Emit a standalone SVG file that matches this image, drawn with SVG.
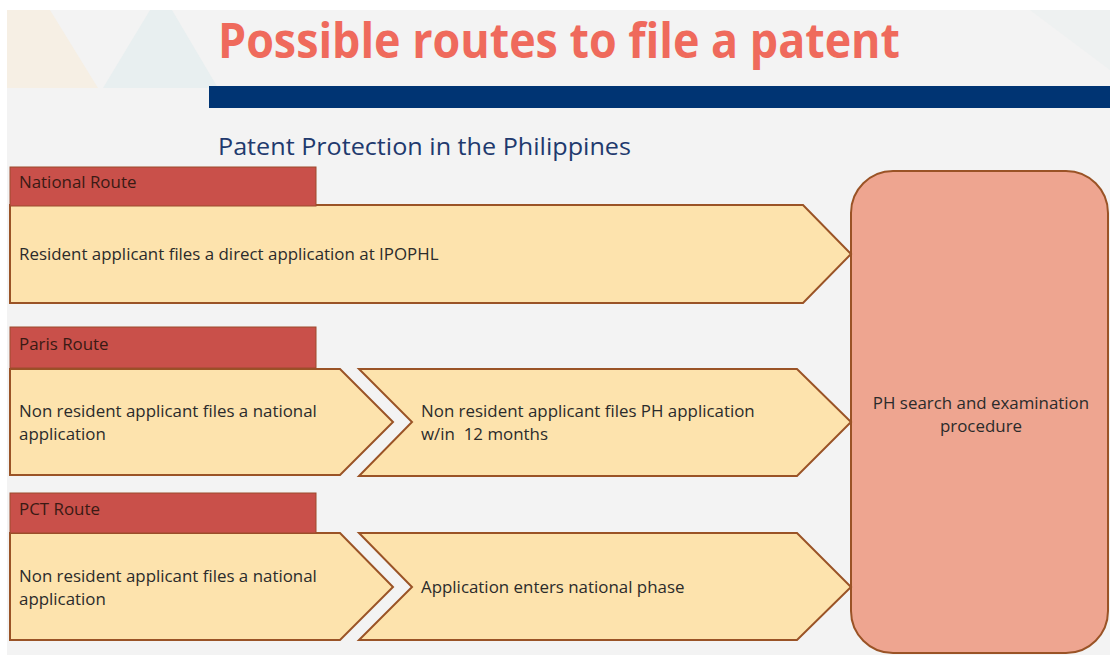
<svg xmlns="http://www.w3.org/2000/svg" width="1110" height="655" viewBox="0 0 1110 655">
<style>
.hdr{fill:#c9504a;stroke:#9c4a2c;stroke-width:1}
.arr{fill:#fde3ad;stroke:#9a5326;stroke-width:2;stroke-linejoin:miter}
.big{fill:#eea590;stroke:#9a5326;stroke-width:2}
.t{font-family:"Open Sans",Lato,sans-serif;font-size:16.9px;fill:#2b2b2b}
.h{font-family:"Open Sans",Lato,sans-serif;font-size:16.9px;fill:#3a1a14}
</style>
<rect x="0" y="0" width="1110" height="655" fill="#ffffff"/>
<rect x="7" y="10" width="1103" height="645" fill="#f3f3f3"/>
<g id="background">
<polygon points="7,10 50,10 98,88 7,88" fill="#f6efe4"/>
<polygon points="103,88 150,10 172,10 218,88" fill="#e8eff0"/>
<polygon points="1030,10 1110,10 1110,70" fill="#eef1f1"/>
</g>
<g id="title">
<text x="218" y="58" font-family="'Open Sans',Lato,sans-serif" font-weight="bold" font-size="48" fill="#ef6a5c" textLength="682" lengthAdjust="spacingAndGlyphs">Possible routes to file a patent</text>
<rect x="209" y="86" width="901" height="22" fill="#003473"/>
<text x="218" y="155" font-family="'Open Sans',Lato,sans-serif" font-size="23" fill="#1f3a6e" textLength="413" lengthAdjust="spacingAndGlyphs">Patent Protection in the Philippines</text>
</g>
<g id="ph-search">
<rect class="big" x="851" y="171" width="257" height="482" rx="42" ry="42"/>
<text class="t" x="981" y="409" text-anchor="middle">PH search and examination</text>
<text class="t" x="981" y="432" text-anchor="middle">procedure</text>
</g>
<g id="national-route">
<polygon class="arr" points="10,205 803,205 851,254 803,303 10,303"/>
<rect class="hdr" x="10" y="167" width="306" height="39"/>
<text class="h" x="19" y="188">National Route</text>
<text class="t" x="19" y="260">Resident applicant files a direct application at IPOPHL</text>
</g>
<g id="paris-route">
<polygon class="arr" points="10,369 340,369 393,422 340,475 10,475"/>
<rect class="hdr" x="10" y="327" width="306" height="41"/>
<text class="h" x="19" y="350">Paris Route</text>
<text class="t" x="19" y="417">Non resident applicant files a national</text>
<text class="t" x="19" y="440">application</text>
</g>
<g id="paris-step2">
<polygon class="arr" points="359,369 797,369 851,422 797,476 359,476 412,422"/>
<text class="t" x="421" y="417">Non resident applicant files PH application</text>
<text class="t" x="421" y="440" xml:space="preserve">w/in  12 months</text>
</g>
<g id="pct-route">
<polygon class="arr" points="10,533 340,533 393,587 340,640 10,640"/>
<rect class="hdr" x="10" y="493" width="306" height="40"/>
<text class="h" x="19" y="515">PCT Route</text>
<text class="t" x="19" y="582">Non resident applicant files a national</text>
<text class="t" x="19" y="605">application</text>
</g>
<g id="pct-step2">
<polygon class="arr" points="359,533 797,533 851,587 797,640 359,640 412,587"/>
<text class="t" x="421" y="593">Application enters national phase</text>
</g>
<g id="connectors"></g>
</svg>
